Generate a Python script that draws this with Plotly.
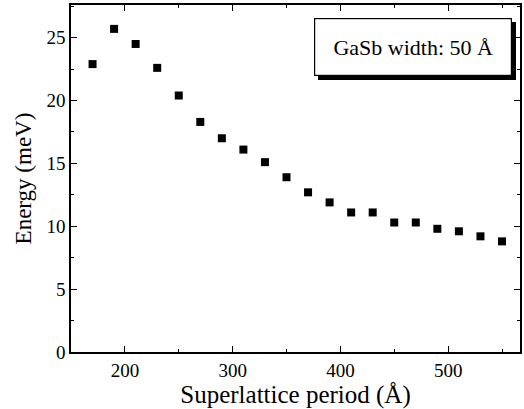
import plotly.graph_objects as go

# Superlattice period (Å) and measured energy (meV)
period = [170, 190, 210, 230, 250, 270, 290, 310, 330, 350,
          370, 390, 410, 430, 450, 470, 490, 510, 530, 550]
energy = [22.9, 25.7, 24.5, 22.6, 20.4, 18.3, 17.0, 16.1, 15.1, 13.9,
          12.7, 11.9, 11.1, 11.1, 10.3, 10.3, 9.8, 9.6, 9.2, 8.8]

x_ticks = [200, 300, 400, 500]
y_ticks = [0, 5, 10, 15, 20, 25]
note = "GaSb width: 50 Å"

W, H = 524, 409
L, R, T, B = 71, 2, 5, 57
pw, ph = W - L - R, H - T - B

def px(xpix):
    return (xpix - L) / pw

def py(ypix):
    return (H - B - ypix) / ph

font = "Liberation Serif"

fig = go.Figure()
fig.add_trace(go.Scatter(
    x=period, y=energy, mode="markers",
    marker=dict(symbol="square", size=8, color="black", line=dict(width=0)),
    showlegend=False,
))

axis_common = dict(
    showline=True, linecolor="black", linewidth=1.5, mirror="allticks",
    ticks="inside", ticklen=6, tickwidth=1.2, tickcolor="black",
    showgrid=False, zeroline=False,
    tickfont=dict(family=font, size=19, color="black"),
)

fig.update_xaxes(
    range=[150, 566.7], tickvals=x_ticks,
    minor=dict(ticks="inside", ticklen=3, tickwidth=1, tickcolor="black", dtick=50, tick0=0),
    title=dict(text="Superlattice period (Å)", font=dict(family=font, size=25, color="black"), standoff=4),
    **axis_common,
)
fig.update_yaxes(
    range=[0, 27.6], tickvals=y_ticks,
    minor=dict(ticks="inside", ticklen=3, tickwidth=1, tickcolor="black", dtick=2.5, tick0=0),
    title=dict(text="Energy (meV)", font=dict(family=font, size=23, color="black"), standoff=8),
    **axis_common,
)

# Label box with a drop shadow: a dark box offset behind a white framed one
bx0, bx1, by0, by1 = 317, 513, 19, 75
sh = 4
cx, cy = px((bx0 + bx1) / 2), py((by0 + by1) / 2)
bw, bh = bx1 - bx0, by1 - by0
fig.add_annotation(xref="paper", yref="paper", x=cx, y=cy,
                   xanchor="center", yanchor="middle",
                   xshift=sh, yshift=-sh,
                   text=" ", showarrow=False, width=bw, height=bh,
                   bgcolor="black", bordercolor="black", borderwidth=1, borderpad=0,
                   font=dict(family=font, size=22, color="black"))
fig.add_annotation(xref="paper", yref="paper", x=cx, y=cy,
                   xanchor="center", yanchor="middle",
                   text=note, showarrow=False, width=bw, height=bh,
                   bgcolor="white", bordercolor="black", borderwidth=1.2, borderpad=0,
                   font=dict(family=font, size=22, color="black"))

fig.update_layout(
    width=W, height=H,
    margin=dict(l=L, r=R, t=T, b=B),
    paper_bgcolor="white", plot_bgcolor="white",
)

fig.write_html("out.html")
